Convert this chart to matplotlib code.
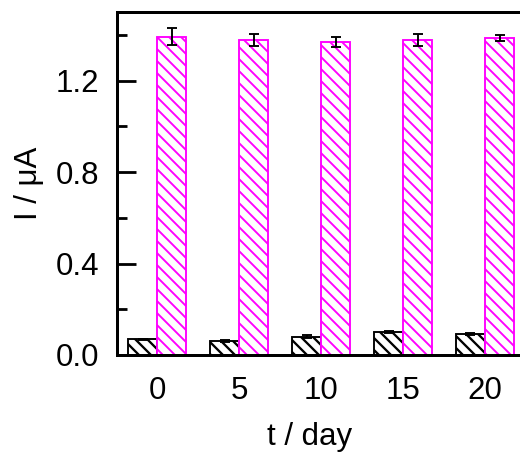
import numpy as np
import matplotlib
matplotlib.use("Agg")
import matplotlib.pyplot as plt
from matplotlib.ticker import MultipleLocator

# Work at 72 dpi so that point sizes equal pixel sizes.
plt.rcParams['font.family'] = ['Liberation Sans', 'DejaVu Sans']

days = [0, 5, 10, 15, 20]
blank = [0.068, 0.060, 0.080, 0.100, 0.092]
blank_err = [0.004, 0.005, 0.006, 0.004, 0.004]
signal = [1.392, 1.377, 1.369, 1.377, 1.386]
signal_err = [0.037, 0.026, 0.022, 0.027, 0.014]

W, H = 520, 452
fig = plt.figure(figsize=(W / 72, H / 72), dpi=72)
ax = fig.add_axes([117 / W, 97 / H, 409 / W, 343 / H])

x = np.arange(len(days))
w = 0.355
err_kw = dict(ecolor='black', elinewidth=1.9, capsize=4.8, capthick=1.9)

with plt.rc_context({'hatch.linewidth': 2.3}):
    ax.bar(x - w / 2, blank, w, yerr=blank_err, facecolor='white',
           edgecolor='black', hatch='\\\\', linewidth=1.9, error_kw=err_kw)
with plt.rc_context({'hatch.linewidth': 1.9}):
    ax.bar(x + w / 2, signal, w, yerr=signal_err, facecolor='white',
           edgecolor='#ff00ff', hatch='\\\\', linewidth=1.9, error_kw=err_kw)

ax.set_xlim(-0.49, 4.5)
ax.set_ylim(0, 1.5)
ax.set_xticks(x)
ax.set_xticklabels([str(d) for d in days])
ax.yaxis.set_minor_locator(MultipleLocator(0.2))
ax.set_yticks([0.0, 0.4, 0.8, 1.2])
ax.set_yticklabels(['0.0', '0.4', '0.8', '1.2'])

for s in ax.spines.values():
    s.set_linewidth(3)

fs = 31.3
ax.tick_params(axis='y', which='major', direction='in', length=19, width=2.8,
               labelsize=fs, pad=18)
ax.tick_params(axis='y', which='minor', direction='in', length=10, width=2.8)
ax.tick_params(axis='x', which='major', length=0, labelsize=fs, pad=21)

ax.set_xlabel('t / day', fontsize=fs)
ax.set_ylabel('I / μA', fontsize=fs)
ax.xaxis.set_label_coords(0.472, -0.195)
ax.yaxis.set_label_coords(-0.178, 0.5)

fig.savefig('out.png', dpi=72)
